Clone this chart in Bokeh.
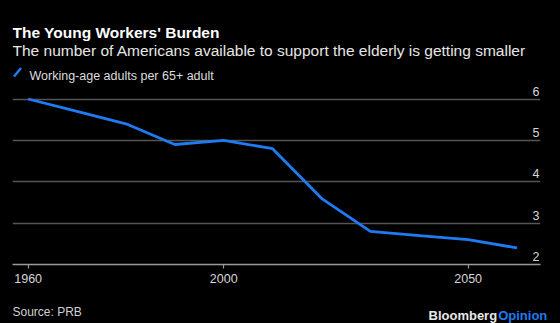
from bokeh.plotting import figure
from bokeh.layouts import column
from bokeh.models import (Range1d, FixedTicker, Grid, Label, Arrow, ColumnDataSource)
from bokeh.embed import file_html
from bokeh.resources import INLINE
from bokeh.core.properties import value

# ---- data ----
years = [1960, 1970, 1980, 1990, 2000, 2010, 2020, 2030, 2040, 2050, 2060]
ratio = [6.0, 5.7, 5.4, 4.9, 5.0, 4.8, 3.6, 2.8, 2.7, 2.6, 2.4]
x_ticks = [1960, 2000, 2050]
y_ticks = [2, 3, 4, 5, 6]
y_tick_labels = ["2", "3", "4", "5", "6"]

title_text = "The Young Workers' Burden"
subtitle_text = "The number of Americans available to support the elderly is getting smaller"
legend_text = "Working-age adults per 65+ adult"
source_text = "Source: PRB"
brand_1, brand_2 = "Bloomberg", "Opinion"

BLUE = "#1f7bf2"
FONT = "Liberation Sans"

W = 560
MAIN_H, FOOT_H = 290, 33
FL, FR, FT, FB = 12, 540, 0, 264          # main frame edges in pixels
x_start, x_end = 1956.8, 2064.8
y_start = 2.0
y_end = 6.0 + (98.5 - FT) / ((FB - 98.5) / 4.0)

def dx(px):
    return x_start + (px - FL) * (x_end - x_start) / (FR - FL)

def dy(py):
    return y_start + (FB - py) * (y_end - y_start) / (FB - FT)

p = figure(width=W, height=MAIN_H, output_backend="svg", toolbar_location=None,
           x_range=Range1d(x_start, x_end), y_range=Range1d(y_start, y_end),
           y_axis_location=None,
           min_border_left=FL, min_border_right=W - FR, min_border_top=FT,
           min_border_bottom=MAIN_H - FB,
           background_fill_color=None, border_fill_color=None,
           outline_line_color=None)
p.frame_align = False

p.xgrid.visible = False
p.ygrid.visible = False
grid = Grid(dimension=1, ticker=FixedTicker(ticks=y_ticks[1:]),
            grid_line_color="#555555", grid_line_width=1.5)
p.add_layout(grid)

ax = p.xaxis[0]
ax.ticker = FixedTicker(ticks=x_ticks)
ax.axis_line_color = "#9a9a9a"
ax.axis_line_width = 1.5
ax.major_tick_line_color = "#9a9a9a"
ax.major_tick_line_width = 1.2
ax.major_tick_out = 4
ax.major_tick_in = 0
ax.minor_tick_line_color = None
ax.major_label_text_color = "#d6d6d6"
ax.major_label_text_font = FONT
ax.major_label_text_font_size = "12.5px"
ax.major_label_standoff = 5

p.line(years, ratio, line_color=BLUE, line_width=2.8, line_join="round")

src = ColumnDataSource(dict(x=[x_end] * len(y_ticks), y=y_ticks, t=y_tick_labels))
p.text(x="x", y="y", text="t", source=src, text_align="right", text_baseline="alphabetic",
       x_offset=-1, y_offset=-8, text_color="#d6d6d6", text_font=value(FONT),
       text_font_size="12.5px")

def lab(px, py, text, size, color, bold=False):
    p.add_layout(Label(x=dx(px), y=dy(py), text=text,
                       text_font=FONT, text_font_size=size, text_color=color,
                       text_font_style="bold" if bold else "normal",
                       text_baseline="alphabetic", text_align="left"))

lab(12, 31.7, title_text, "15.5px", "#ffffff", bold=True)
lab(12, 50, subtitle_text, "15.5px", "#e6e6e6")
lab(29, 75, legend_text, "12.5px", "#dcdcdc")

p.add_layout(Arrow(end=None, x_start=dx(13.5), y_start=dy(76), x_end=dx(20.5), y_end=dy(67.5),
                   line_color=BLUE, line_width=2.5))

# ---- footer (pixel-like coordinates) ----
f = figure(width=W, height=FOOT_H, output_backend="svg", toolbar_location=None,
           x_range=Range1d(0, W), y_range=Range1d(MAIN_H + FOOT_H, MAIN_H),
           x_axis_location=None, y_axis_location=None,
           min_border=0, background_fill_color=None, border_fill_color=None,
           outline_line_color=None)
f.frame_align = False
f.xgrid.visible = False
f.ygrid.visible = False
f.text(x=[12], y=[311], text=[source_text], text_font=value(FONT), text_font_size="12px",
       text_color="#d0d0d0", text_baseline="alphabetic")
f.text(x=[428], y=[315], text=[brand_1], text_font=value(FONT), text_font_size="13px",
       text_font_style="bold", text_color="#e8e8e8", text_baseline="alphabetic")
f.text(x=[497.7], y=[315], text=[brand_2], text_font=value(FONT), text_font_size="13px",
       text_font_style="bold", text_color=BLUE, text_baseline="alphabetic")

layout = column(p, f, spacing=0, styles={"background-color": "black"})
html = file_html(layout, INLINE)
html = html.replace("<head>", "<head><style>html,body{background:#000;margin:0;padding:0;}</style>", 1)
open("out.html", "w").write(html)
